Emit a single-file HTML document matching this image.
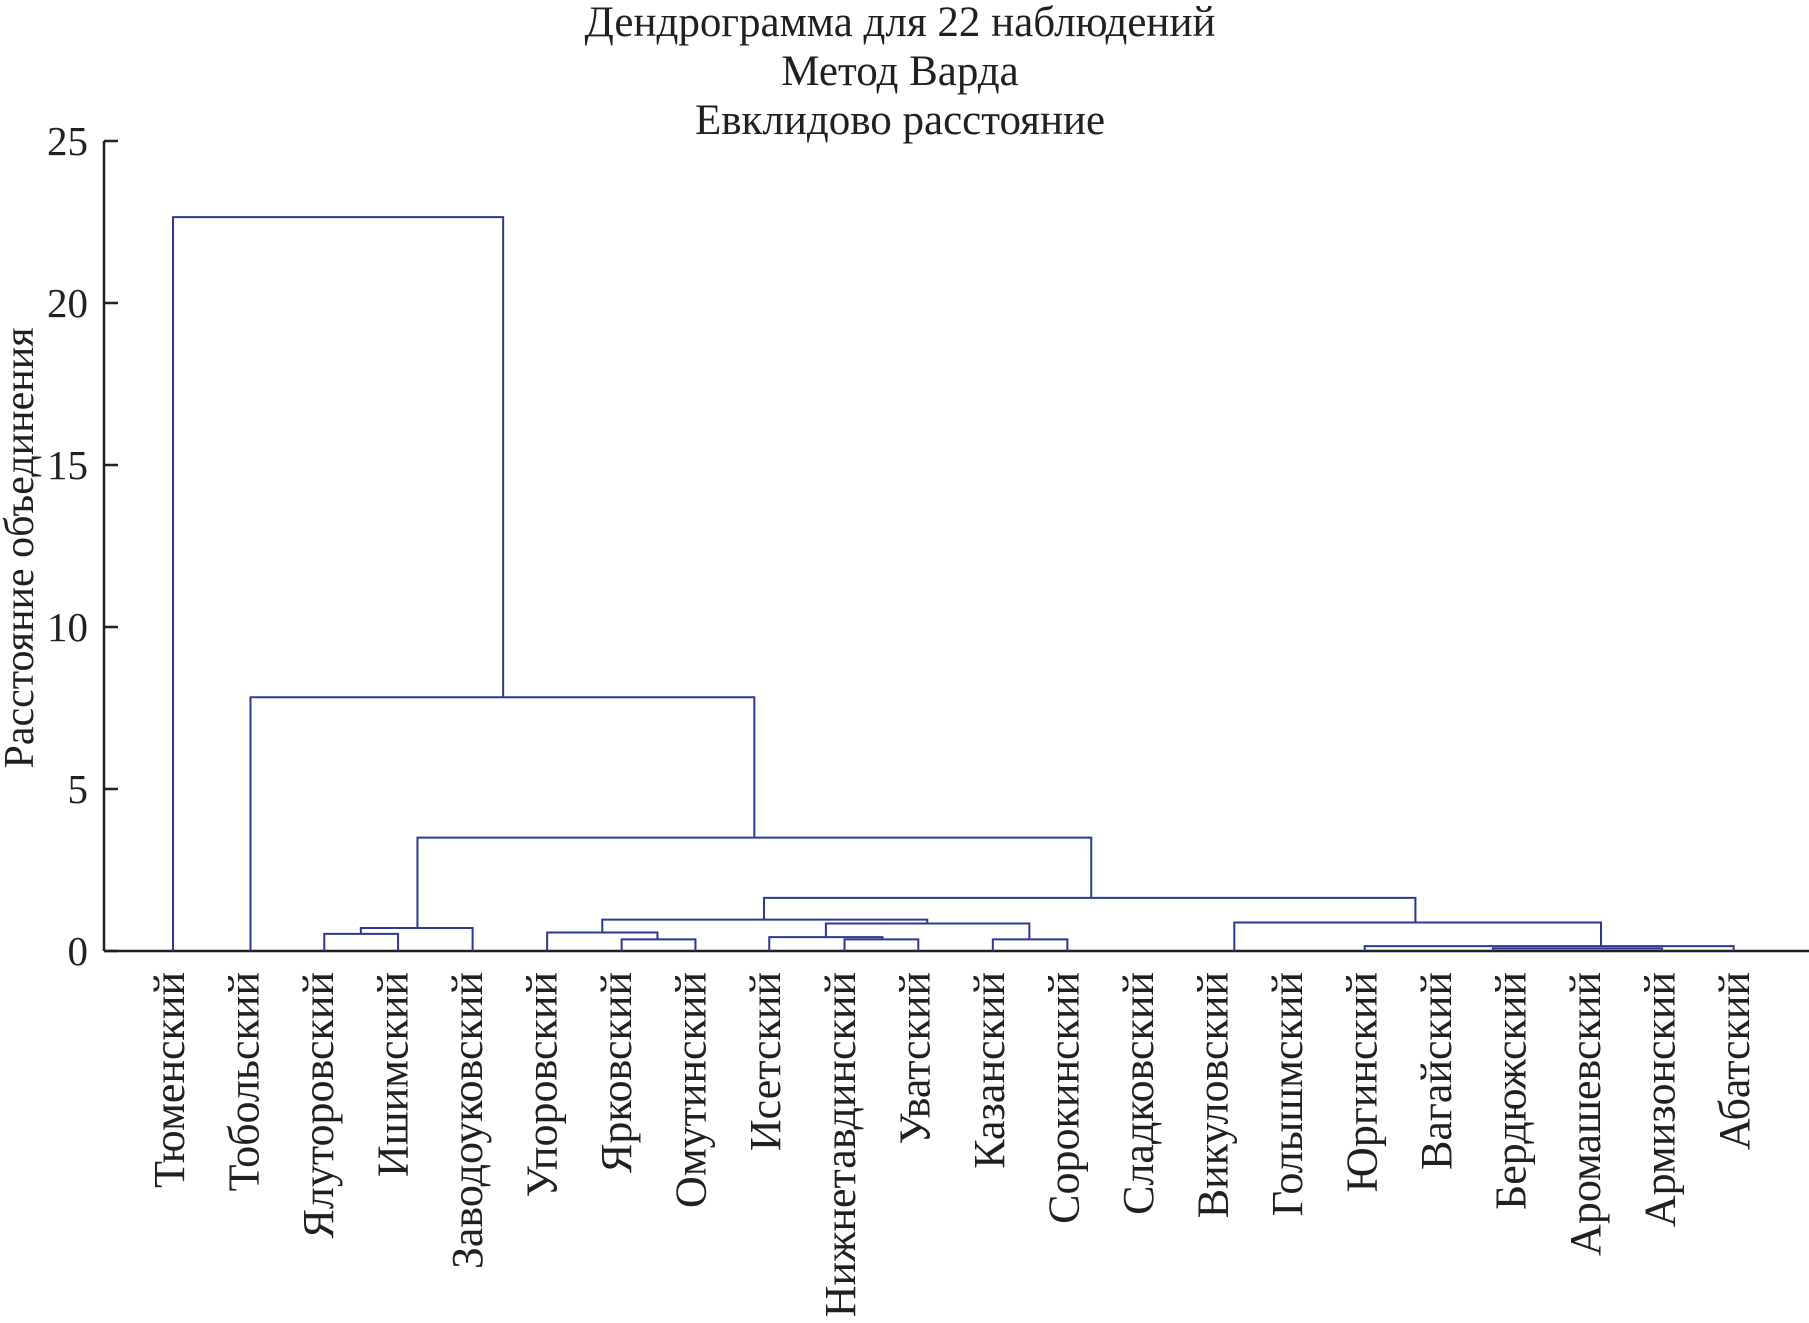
<!DOCTYPE html>
<html><head><meta charset="utf-8"><style>
html,body{margin:0;padding:0;background:#fff;}
svg text{font-family:"Liberation Serif",serif;fill:#231f20;}
</style></head><body>
<svg id="chart" width="1809" height="1318" viewBox="0 0 1809 1318" xmlns="http://www.w3.org/2000/svg">
<g>
<text x="900" y="36" font-size="43" text-anchor="middle">Дендрограмма для 22 наблюдений</text>
<text x="900" y="85" font-size="43" text-anchor="middle">Метод Варда</text>
<text x="900" y="134" font-size="43" text-anchor="middle">Евклидово расстояние</text>
</g>
<text transform="translate(33,548) rotate(-90)" font-size="42" text-anchor="middle">Расстояние объединения</text>
<g id="axes"></g>
<g id="links"></g>
<g id="labels"></g>
</svg>
<script>
const leafNames=["Тюменский","Тобольский","Ялуторовский","Ишимский","Заводоуковский","Упоровский","Ярковский","Омутинский","Исетский","Нижнетавдинский","Уватский","Казанский","Сорокинский","Сладковский","Викуловский","Голышмский","Юргинский","Вагайский","Бердюжский","Аромашевский","Армизонский","Абатский"];
const yTicks=[0,5,10,15,20,25];
// links: left x, right x (leaf-index units), merge height, left bottom height, right bottom height
const linkLeft=[2.03,2.52,6.02,5.02,9.01,8.0,11.0,8.76,5.76,15.99,17.71,14.24,7.93,3.28,1.04,0];
const linkRight=[3.02,4.02,7.01,6.5,10.0,9.52,12.0,11.49,10.12,20.94,19.98,19.16,16.67,12.32,7.8,4.43];
const linkHeight=[0.53,0.71,0.36,0.57,0.36,0.43,0.36,0.85,0.97,0.15,0.08,0.88,1.64,3.5,7.83,22.65];
const linkLeftBottom=[0,0.53,0,0,0,0,0,0.43,0.57,0,0,0,0.97,0.71,0,0];
const linkRightBottom=[0,0,0,0.36,0,0.36,0,0.36,0.85,0,0,0.15,0.88,1.64,3.5,7.83];

const NS="http://www.w3.org/2000/svg";
const X0=104,X1=1809,Y0=951,YTOP=141,YMAX=25;
const xs=i=>173+74.53*i;
const ys=v=>Y0-(v/YMAX)*(Y0-YTOP);
function mk(tag,attrs,parent){const e=document.createElementNS(NS,tag);for(const k in attrs)e.setAttribute(k,attrs[k]);parent.appendChild(e);return e;}
const axes=document.getElementById('axes');
let a=mk('line',{x1:X0,y1:YTOP,x2:X0,y2:Y0,stroke:'#231f20','stroke-width':2.5},axes);


a=mk('line',{x1:X0,y1:Y0,x2:X1,y2:Y0,stroke:'#231f20','stroke-width':2.5},axes);


yTicks.forEach(t=>{
  const tk=mk('line',{x1:X0,y1:ys(t),x2:X0+14,y2:ys(t),stroke:'#231f20','stroke-width':2.5},axes);
  
  
  const tl=mk('text',{x:X0-16,y:ys(t)+14,'font-size':41,'text-anchor':'end'},axes);
  tl.textContent=t;
  
  
});
const links=document.getElementById('links');
linkLeft.forEach((l,i)=>{
  const r=linkRight[i],h=linkHeight[i];
  const p=mk('path',{d:`M${xs(l)},${ys(linkLeftBottom[i])}V${ys(h)}H${xs(r)}V${ys(linkRightBottom[i])}`,fill:'none',stroke:'#2b3990','stroke-width':2},links);
  
  
});
const labels=document.getElementById('labels');
leafNames.forEach((n,i)=>{
  const t=mk('text',{transform:`translate(${xs(i)+11},972) rotate(-90)`,'font-size':44,'text-anchor':'end'},labels);
  t.textContent=n;
  
  
});
</script>
</body></html>
